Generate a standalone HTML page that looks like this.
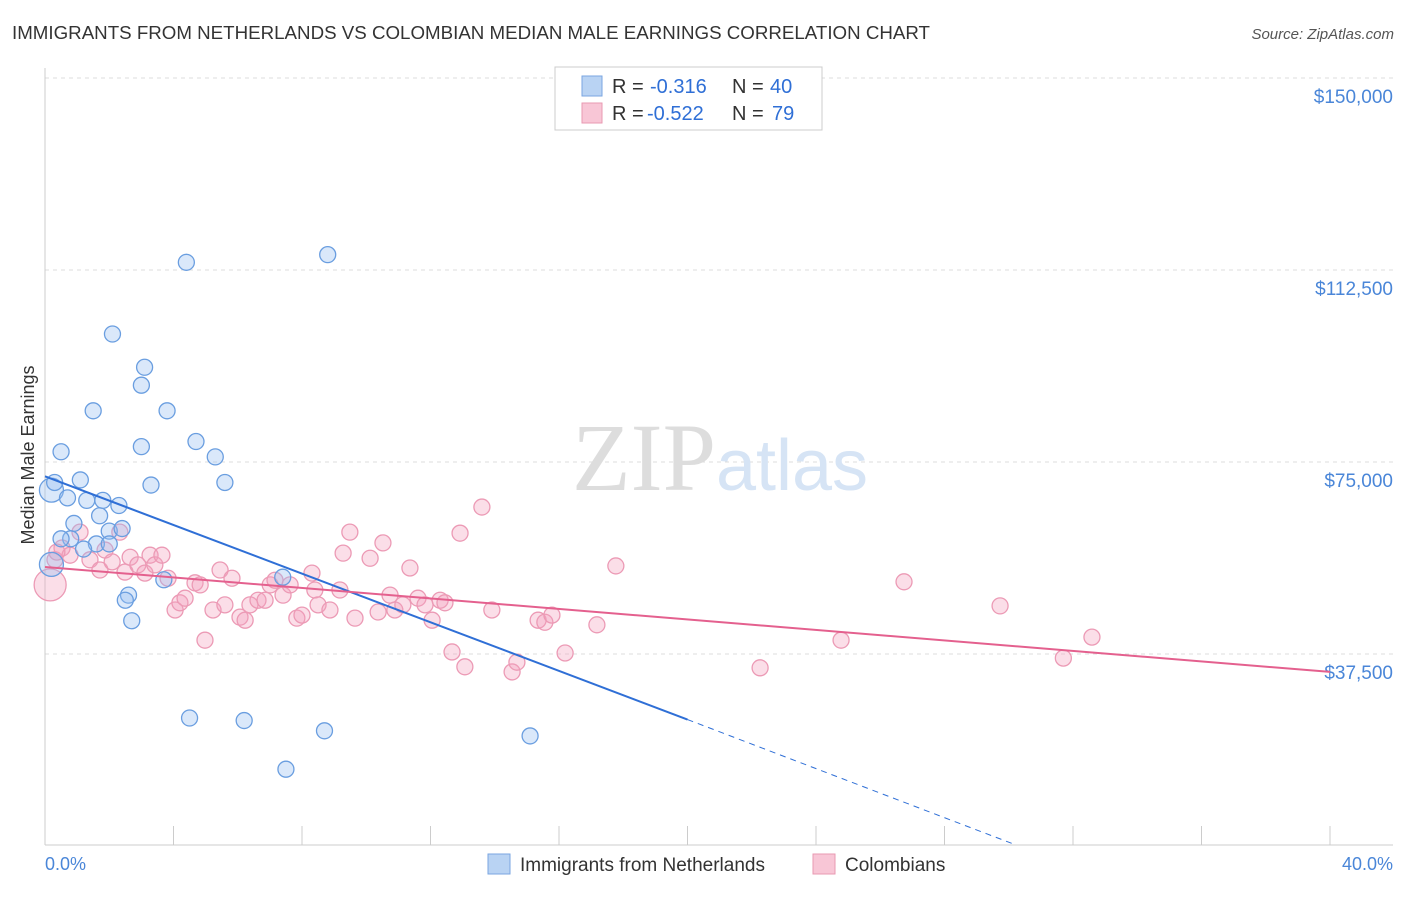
<!DOCTYPE html>
<html><head><meta charset="utf-8"><style>
body{margin:0;background:#fff;font-family:"Liberation Sans",sans-serif;}
</style></head><body>
<svg width="1406" height="892" xmlns="http://www.w3.org/2000/svg" font-family="Liberation Sans, sans-serif">
<text x="12" y="39" font-size="18" fill="#333" textLength="918" lengthAdjust="spacingAndGlyphs">IMMIGRANTS FROM NETHERLANDS VS COLOMBIAN MEDIAN MALE EARNINGS CORRELATION CHART</text>
<text x="1394" y="39" font-size="15" fill="#555" text-anchor="end" font-style="italic">Source: ZipAtlas.com</text>
<g id="grid"></g>
<text x="720" y="490" font-size="96" text-anchor="middle" font-family="Liberation Serif, serif" fill="#ddd">ZIP<tspan fill="#d6e4f5" font-family="Liberation Sans, sans-serif" font-size="72">atlas</tspan></text>
<line x1="45" y1="845" x2="1393" y2="845" stroke="#ccc"/>
<line x1="45" y1="68" x2="45" y2="845" stroke="#ccc"/>
<g id="xticks"></g>
<text transform="translate(34,455) rotate(-90)" font-size="18" fill="#333" text-anchor="middle">Median Male Earnings</text>
<text x="45" y="870" font-size="18" fill="#4a86d8">0.0%</text>
<text x="1393" y="870" font-size="18" fill="#4a86d8" text-anchor="end">40.0%</text>
<g id="pts"></g>
<g id="lines"></g>
<g>
<rect x="555" y="67" width="267" height="63" fill="#fff" stroke="#ccc"/>
<rect x="582" y="76" width="20" height="20" fill="#b9d3f3" stroke="#7aa6e0"/>
<rect x="582" y="103" width="20" height="20" fill="#f8c6d6" stroke="#e899b2"/>
<text x="612" y="93" font-size="20" fill="#333">R =</text>
<text x="650" y="93" font-size="20" fill="#2f6fd6">-0.316</text>
<text x="732" y="93" font-size="20" fill="#333">N =</text>
<text x="770" y="93" font-size="20" fill="#2f6fd6">40</text>
<text x="612" y="120" font-size="20" fill="#333">R =</text>
<text x="647" y="120" font-size="20" fill="#2f6fd6">-0.522</text>
<text x="732" y="120" font-size="20" fill="#333">N =</text>
<text x="772" y="120" font-size="20" fill="#2f6fd6">79</text>
</g>
<g>
<rect x="488" y="854" width="22" height="20" fill="#b9d3f3" stroke="#7aa6e0"/>
<text x="520" y="871" font-size="19" fill="#333">Immigrants from Netherlands</text>
<rect x="813" y="854" width="22" height="20" fill="#f8c6d6" stroke="#e899b2"/>
<text x="845" y="871" font-size="19" fill="#333">Colombians</text>
</g>
</svg>
<script>
const yTicks=[37500,75000,112500,150000];
const yTickLabels=["$37,500","$75,000","$112,500","$150,000"];
const xTicks=[0,4,8,12,16,20,24,28,32,36,40];
const blueX=[0.2,0.5,0.3,0.7,1.1,1.5,0.9,1.3,1.7,1.8,2.3,1.6,1.2,0.8,2.0,2.0,2.4,2.1,3.1,3.0,3.8,3.0,3.3,4.4,8.8,4.7,5.3,5.6,3.7,2.6,2.5,2.7,4.5,6.2,8.7,7.5,15.1,7.4,0.2,0.5];
const blueY=[69500,77000,71000,68000,71500,85000,63000,67500,64500,67500,66500,59000,58000,60000,61500,59000,62000,100000,93500,90000,85000,78000,70500,114000,115500,79000,76000,71000,52000,49000,48000,44000,25000,24500,22500,15000,21500,52500,55000,60000];
const pinkX=[0.16,0.31,0.53,0.78,1.09,1.40,1.71,1.87,2.09,2.33,2.49,2.65,2.89,3.11,3.27,3.42,3.64,3.83,4.05,4.20,4.36,4.67,4.83,4.98,5.23,5.45,5.60,5.82,6.07,6.23,6.38,6.63,6.85,7.01,7.16,7.41,7.63,7.84,8.00,8.31,8.40,8.50,8.87,9.18,9.28,9.49,9.65,10.12,10.37,10.52,10.74,10.89,11.14,11.36,11.61,11.83,12.05,12.30,12.45,12.67,12.92,13.07,13.60,13.91,14.54,14.69,15.35,15.56,15.78,16.19,17.18,17.77,22.26,24.78,26.74,29.73,31.70,32.59,0.37];
const pinkY=[51000,55900,58200,56800,61300,55900,53900,57800,55500,61300,53500,56400,54900,53300,56800,54900,56800,52300,46100,47500,48400,51400,51000,40200,46100,53900,47100,52300,44700,44100,47100,48000,48000,51000,51900,49000,51000,44500,45100,53300,50000,47100,46100,50000,57200,61300,44500,56200,45700,59200,49000,46100,47100,54300,48400,47100,44100,48000,47500,37900,61100,35000,66200,46100,34000,35900,44100,43700,45100,37700,43200,54700,34800,40200,51600,46900,36700,40800,57400];
const ns="http://www.w3.org/2000/svg";
const X=v=>45+v/40*1285, Y=v=>846-v*192/37500;
function mk(t,a,p){const e=document.createElementNS(ns,t);for(const k in a)e.setAttribute(k,a[k]);document.getElementById(p).appendChild(e);return e;}
yTicks.forEach((t,i)=>{
 const l=mk('line',{x1:45,x2:1393,y1:Y(t),y2:Y(t),stroke:'#ddd','stroke-dasharray':'4,4'},'grid');
 
 
 const tx=mk('text',{x:1393,y:Y(t)+25,'font-size':19,fill:'#4a86d8','text-anchor':'end'},'grid');
 tx.textContent=yTickLabels[i];
 
 
});
xTicks.forEach(t=>{
 const l=mk('line',{x1:X(t),x2:X(t),y1:826,y2:845,stroke:'#ccc'},'xticks');
 
 
});
pinkX.forEach((x,i)=>{
 const big=(i==0);
 const c=mk('circle',{cx:X(x),cy:Y(pinkY[i]),r:big?16:8,fill:'rgba(244,160,190,0.35)',stroke:'#ec9ab5','stroke-width':1.3},'pts');
 
 
});
blueX.forEach((x,i)=>{
 const big=(i==0||i==38);
 const c=mk('circle',{cx:X(x),cy:Y(blueY[i]),r:big?12:8,fill:'rgba(150,190,240,0.35)',stroke:'#6a9ee0','stroke-width':1.3},'pts');
 
 
});
const bl=mk('line',{x1:X(0),y1:Y(72200),x2:X(20),y2:Y(24700),stroke:'#2f6fd6','stroke-width':2},'lines');


const bd=mk('line',{x1:X(20),y1:Y(24700),x2:X(30.1),y2:Y(500),stroke:'#2f6fd6','stroke-width':1,'stroke-dasharray':'6,5'},'lines');


const pl=mk('line',{x1:X(0),y1:Y(54500),x2:X(40),y2:Y(34000),stroke:'#e4608e','stroke-width':2},'lines');


</script>
</body></html>
